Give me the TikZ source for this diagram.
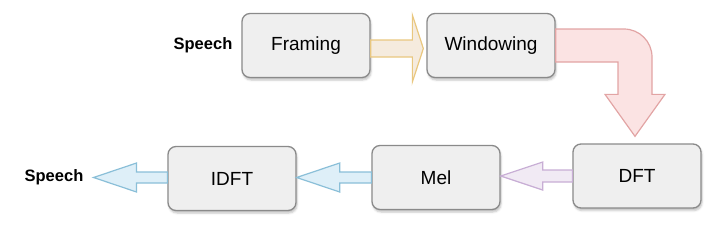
\documentclass[tikz,border=0pt]{standalone}
\usepackage{fontspec}
\setmainfont{Liberation Sans}
\usepackage{tikz}
\usetikzlibrary{calc,shadows.blur}
\definecolor{cBoxF}{HTML}{EFEFEF}
\definecolor{cBoxD}{HTML}{8A8A8A}
\definecolor{cYelF}{HTML}{F5EBDE}
\definecolor{cYelD}{HTML}{E9C77F}
\definecolor{cRedF}{HTML}{FBE3E3}
\definecolor{cRedD}{HTML}{E2A4A4}
\definecolor{cPurF}{HTML}{F1EAF4}
\definecolor{cPurD}{HTML}{C8AED5}
\definecolor{cBluF}{HTML}{DEEFF8}
\definecolor{cBluD}{HTML}{8ABFD8}
\tikzset{
  blk/.style = {rectangle, rounded corners=8pt, draw=cBoxD, fill=cBoxF, line width=1.3pt,
                minimum width=128pt, minimum height=64pt, font=\fontsize{19}{22}\selectfont,
                blur shadow={shadow xshift=1pt, shadow yshift=-2.5pt, shadow opacity=25,
                             shadow blur radius=2pt}},
  io/.style  = {inner sep=0pt, font=\fontsize{16.5}{19}\selectfont\bfseries},
  fat/.style = {draw=#1D, fill=#1F, line width=1.2pt, line join=miter},
}

\begin{document}
\begin{tikzpicture}[x=1pt, y=-1pt]
  \useasboundingbox (0,0) rectangle (716,226);
  \node[blk] (frm)  at (306,45.5)  {Framing};
  \node[blk] (win)  at (491,45.5)  {Windowing};
  \node[blk] (dft)  at (637,176)   {DFT};
  \node[blk] (mel)  at (436,177.5) {Mel};
  \node[blk] (idft) at (232,178.5) {IDFT};
  \node[io]  (sin)  at (203,45.5)  {Speech};
  \node[io]  (sout) at (54,177.5)  {Speech};
  \coordinate (tip) at ($(sout.east)+(10,0)$);

  \draw[fat=cYel] ($(frm.east)+(0,-5.5)$) -- ($(win.west)+(-14,-5.5)$) -- ($(win.west)+(-14,-30.5)$)
    -- ($(win.west)+(-3,3)$) -- ($(win.west)+(-14,36.5)$) -- ($(win.west)+(-14,11.5)$)
    -- ($(frm.east)+(0,11.5)$) -- cycle;
  \draw[fat=cRed] ($(win.east)+(0,-16.5)$) -- ($(dft.north |- win.east)+(-13,-16.5)$)
    arc[start angle=-90, end angle=0, radius=28] -- ($(dft.north)+(15,-49)$)
    -- ($(dft.north)+(28,-49)$) -- ($(dft.north)+(-2,-7)$) -- ($(dft.north)+(-32,-49)$)
    -- ($(dft.north)+(-19,-49)$) -- ($(dft.north |- win.east)+(-19,16.5)$)
    -- ($(win.east)+(0,16.5)$) -- cycle;
  \draw[fat=cPur] ($(dft.west)+(0,-6)$) -- ($(mel.east |- dft.west)+(42,-6)$)
    -- ($(mel.east |- dft.west)+(42,-14)$) -- (mel.east |- dft.west)
    -- ($(mel.east |- dft.west)+(42,14)$) -- ($(mel.east |- dft.west)+(42,6)$)
    -- ($(dft.west)+(0,6)$) -- cycle;
  \draw[fat=cBlu] ($(mel.west)+(0,-5.5)$) -- ($(idft.east |- mel.west)+(43,-5.5)$)
    -- ($(idft.east |- mel.west)+(43,-14.5)$) -- (idft.east |- mel.west)
    -- ($(idft.east |- mel.west)+(43,14.5)$) -- ($(idft.east |- mel.west)+(43,5.5)$)
    -- ($(mel.west)+(0,5.5)$) -- cycle;
  \draw[fat=cBlu] ($(idft.west |- tip)+(0,-5.5)$) -- ($(tip)+(43,-5.5)$) -- ($(tip)+(43,-14.5)$)
    -- (tip) -- ($(tip)+(43,14.5)$) -- ($(tip)+(43,5.5)$) -- ($(idft.west |- tip)+(0,5.5)$) -- cycle;
\end{tikzpicture}
\end{document}
